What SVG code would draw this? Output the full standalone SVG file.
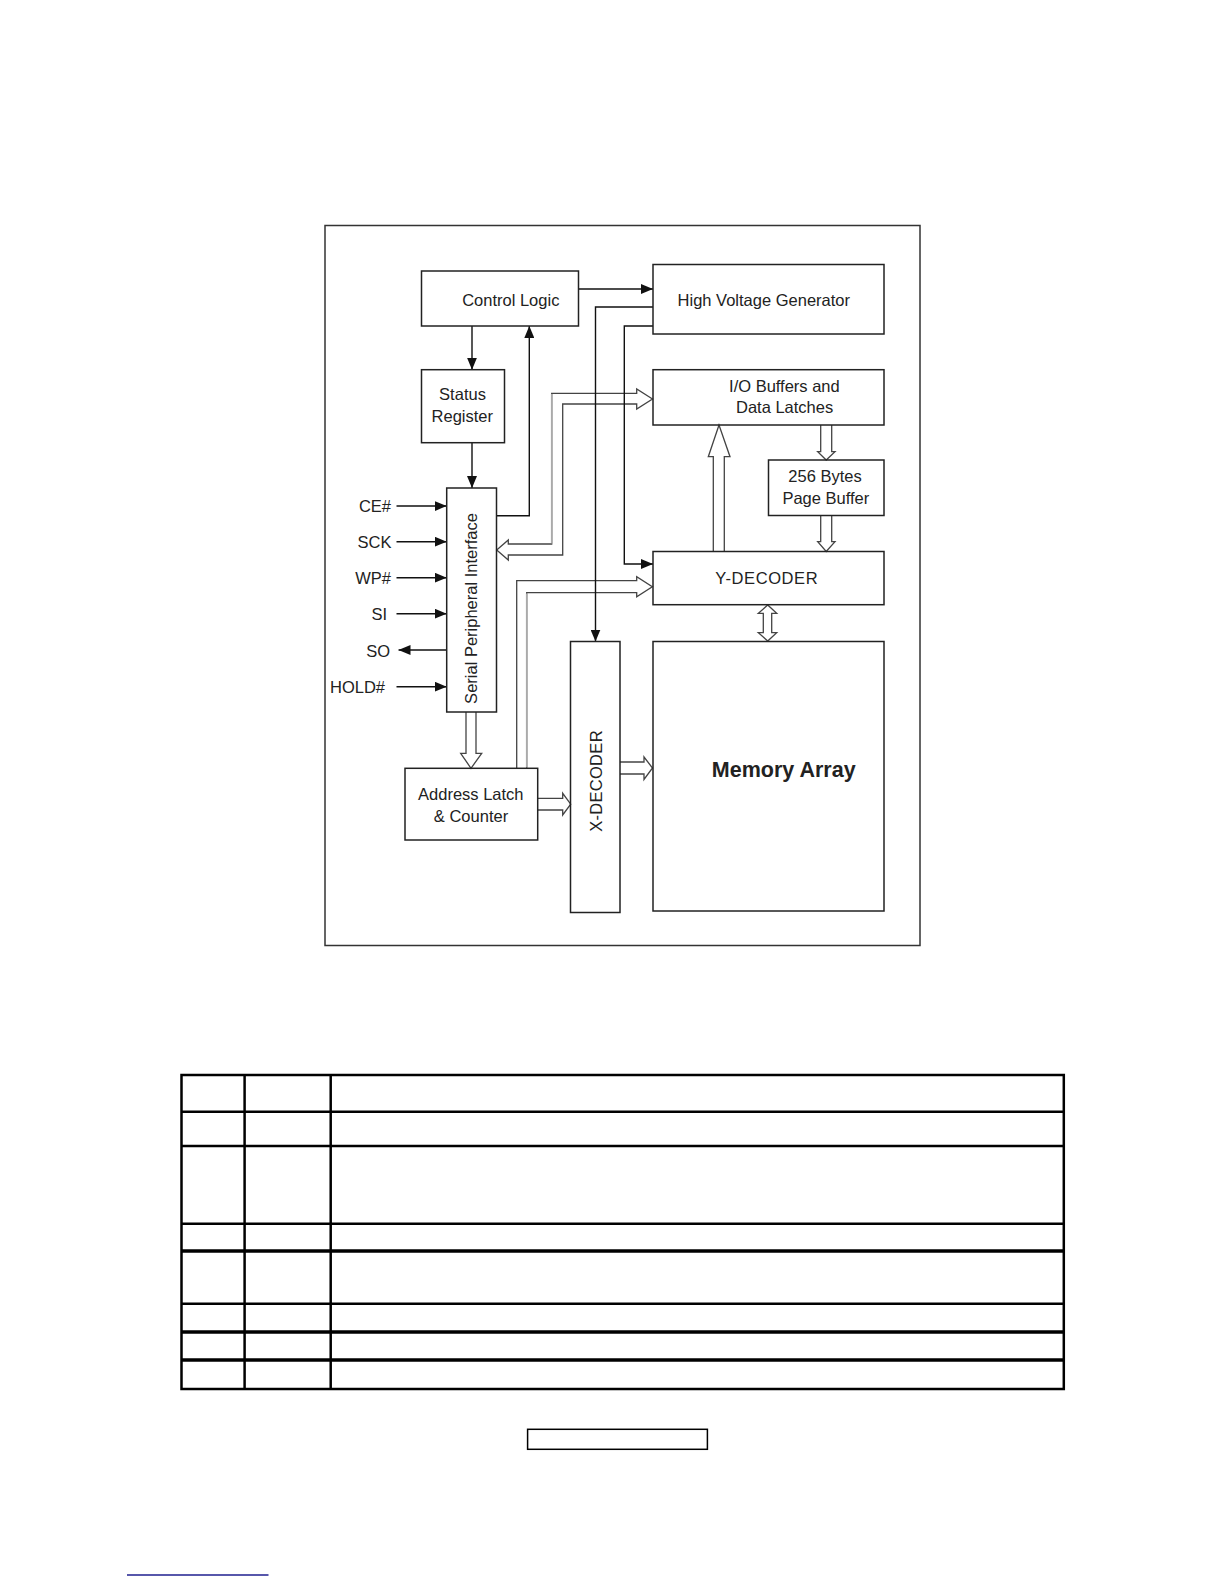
<svg xmlns="http://www.w3.org/2000/svg" width="1224" height="1584" viewBox="0 0 1224 1584">
<defs>
<marker id="ah" markerUnits="userSpaceOnUse" markerWidth="12" markerHeight="10" refX="12" refY="5" orient="auto">
<path d="M0,0 L12,5 L0,10 Z" fill="#111"/>
</marker>
<style>
.box{fill:none;stroke:#222;stroke-width:1.5}
.lbl{font-family:"Liberation Sans",Arial,sans-serif;font-size:16.5px;fill:#222}
.mid{text-anchor:middle}
.end{text-anchor:end}
.wire{fill:none;stroke:#111;stroke-width:1.4;marker-end:url(#ah)}
.bus{fill:#fff;stroke:#444;stroke-width:1.3;stroke-linejoin:miter}
.gray{fill:none;stroke:#aaa;stroke-width:1.6}
.tbl{fill:none;stroke:#000;stroke-width:2.5}
.tblk{fill:none;stroke:#000;stroke-width:3.5}
</style>
</defs>
<rect width="1224" height="1584" fill="#fff"/>

<rect x="325" y="225.5" width="595" height="720" fill="none" stroke="#333" stroke-width="1.5"/>

<g id="connectors">
<!-- hollow bus arrows -->
<path class="bus" d="M652.5,399 L636.7,389 V393.3 H551.7 V544 H508.3 V540 L496.7,550 L508.3,560 V555 H562.7 V404 H636.7 V409 Z"/>
<line class="gray" x1="551.7" y1="394" x2="551.7" y2="543.5"/>
<path class="bus" d="M516.7,768.3 V580.7 H636.7 V576.7 L652.3,586.7 L636.7,596.7 V592.7 H526.7 V768.3"/>
<line class="gray" x1="526.7" y1="593.5" x2="526.7" y2="767.5"/>
<path class="bus" d="M713.3,551.5 V456.7 H708.3 L719,425 L730,456.7 H724.3 V551.5"/>
<path class="bus" d="M820.7,425 V451.7 H817.7 L826.2,460 L835,451.7 H831.7 V425"/>
<path class="bus" d="M820.7,515.5 V541.7 H817.7 L826.2,551.5 L835,541.7 H831.7 V515.5"/>
<path class="bus" d="M763.3,613.3 H758.3 L767.7,605 L776.7,613.3 H771.7 V632.7 H776.7 L767.7,641 L758.3,632.7 H763.3 Z"/>
<path class="bus" d="M466,712 V753.3 H460.7 L471,768.3 L481.7,753.3 H476 V712"/>
<path class="bus" d="M537.7,798.3 H562.7 V793.3 L570.7,804.2 L562.7,815 V810 H537.7"/>
<path class="bus" d="M620,762 H644 V757 L652.5,768 L644,779.5 V774 H620"/>
<!-- thin wires -->
<path class="wire" d="M578.7,289 H653"/>
<path class="wire" d="M653,307 H595.5 V641.5"/>
<path class="wire" d="M653,326 H624.3 V564 H653"/>
<path class="wire" d="M472,326 V369.7"/>
<path class="wire" d="M472,442.5 V488"/>
<path class="wire" d="M496.5,515.7 H529.3 V326"/>
<path class="wire" d="M396.5,506 H446.7"/>
<path class="wire" d="M396.5,541.7 H446.7"/>
<path class="wire" d="M396.5,577.7 H446.7"/>
<path class="wire" d="M396.5,613.7 H446.7"/>
<path class="wire" d="M446.7,650 H398.5"/>
<path class="wire" d="M396.5,686.7 H446.7"/>
</g>

<g id="control-logic">
<rect class="box" x="421.5" y="271" width="157" height="55"/>
<text class="lbl mid" x="510.8" y="306">Control Logic</text>
</g>
<g id="high-voltage-generator">
<rect class="box" x="653" y="264.5" width="231" height="69.5"/>
<text class="lbl mid" x="763.8" y="306">High Voltage Generator</text>
</g>
<g id="status-register">
<rect class="box" x="421.5" y="369.7" width="83" height="73"/>
<text class="lbl mid" x="462.5" y="400.3">Status</text>
<text class="lbl mid" x="462.3" y="421.7">Register</text>
</g>
<g id="io-buffers">
<rect class="box" x="653" y="369.7" width="231" height="55.3"/>
<text class="lbl mid" x="784.4" y="391.7">I/O Buffers and</text>
<text class="lbl mid" x="784.6" y="413.3">Data Latches</text>
</g>
<g id="page-buffer">
<rect class="box" x="768.5" y="460" width="115.5" height="55.5"/>
<text class="lbl mid" x="825" y="481.7">256 Bytes</text>
<text class="lbl mid" x="825.8" y="503.5">Page Buffer</text>
</g>
<g id="spi">
<rect class="box" x="446.7" y="488" width="49.8" height="224"/>
<text class="lbl mid" transform="translate(477,608.5) rotate(-90)">Serial Peripheral Interface</text>
</g>
<g id="y-decoder">
<rect class="box" x="653" y="551.5" width="231" height="53.2"/>
<text class="lbl mid" x="766.8" y="584.3" letter-spacing="0.6">Y-DECODER</text>
</g>
<g id="x-decoder">
<rect class="box" x="570.5" y="641.5" width="49.5" height="271"/>
<text class="lbl mid" transform="translate(601.5,781) rotate(-90)" letter-spacing="0.3">X-DECODER</text>
</g>
<g id="memory-array">
<rect class="box" x="653" y="641.5" width="231" height="269.5"/>
<text class="lbl mid" x="783.7" y="777.3" style="font-size:21.5px;font-weight:bold">Memory Array</text>
</g>
<g id="address-latch">
<rect class="box" x="405" y="768.3" width="132.7" height="71.7"/>
<text class="lbl mid" x="470.8" y="800">Address Latch</text>
<text class="lbl mid" x="471" y="822.3">&amp; Counter</text>
</g>
<g id="pins">
<text class="lbl end" x="391" y="511.7">CE#</text>
<text class="lbl end" x="391.5" y="548">SCK</text>
<text class="lbl end" x="391" y="584">WP#</text>
<text class="lbl end" x="387" y="620">SI</text>
<text class="lbl end" x="390" y="656.5">SO</text>
<text class="lbl end" x="385" y="693">HOLD#</text>
</g>

<g id="table">
<rect class="tbl" x="181.5" y="1075" width="882.3" height="314"/>
<line class="tbl" x1="244.6" y1="1075" x2="244.6" y2="1389"/>
<line class="tbl" x1="330.7" y1="1075" x2="330.7" y2="1389"/>
<line class="tbl" x1="181.5" y1="1111.7" x2="1063.8" y2="1111.7"/>
<line class="tbl" x1="181.5" y1="1146" x2="1063.8" y2="1146"/>
<line class="tbl" x1="181.5" y1="1223.7" x2="1063.8" y2="1223.7"/>
<line class="tblk" x1="181.5" y1="1251" x2="1063.8" y2="1251"/>
<line class="tbl" x1="181.5" y1="1303.7" x2="1063.8" y2="1303.7"/>
<line class="tblk" x1="181.5" y1="1332" x2="1063.8" y2="1332"/>
<line class="tblk" x1="181.5" y1="1360" x2="1063.8" y2="1360"/>
</g>

<rect x="527.6" y="1429.3" width="179.8" height="20" fill="none" stroke="#000" stroke-width="1.5"/>
<line x1="127" y1="1575" x2="268.5" y2="1575" stroke="#1f1f8f" stroke-width="1.5"/>
</svg>
